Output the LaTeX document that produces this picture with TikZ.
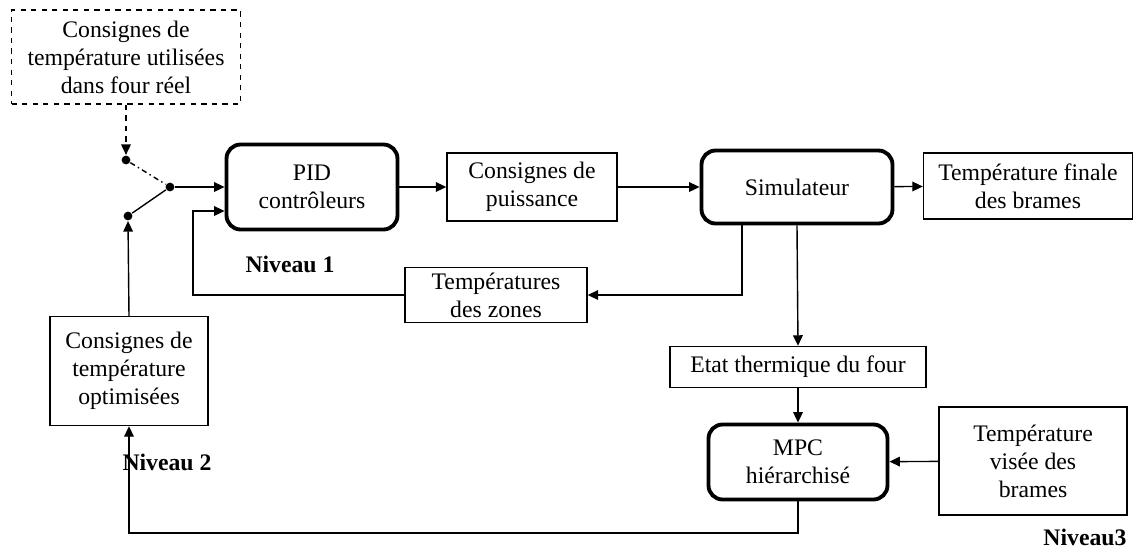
\documentclass[tikz,border=0pt]{standalone}
\usepackage{fontspec}
\setmainfont{Liberation Serif}
\usetikzlibrary{arrows.meta}
\tikzset{
  blk/.style={draw,line width=0.8pt,align=center,inner sep=2pt},
  ctrl/.style={draw,line width=2.2pt,rounded corners=8pt,align=center,inner sep=2pt},
  lvl/.style={font=\fontsize{13.5}{16}\selectfont\bfseries},
  dot/.style={circle,fill,inner sep=0pt,minimum size=5pt},
  >={Triangle[length=6pt,width=5.5pt]}
}
\begin{document}
\begin{tikzpicture}[x=0.02cm,y=-0.02cm,line width=0.8pt,font=\fontsize{13.5}{16}\selectfont]
\useasboundingbox(0,0)rectangle(1134,556);
%blocks
\node[blk,dashed,minimum width=4.58cm,minimum height=1.88cm](reel)at(126,57){Consignes de\\température utilisées\\dans four réel};
\node[ctrl,minimum width=3.42cm,minimum height=1.7cm](pid)at(312,187){PID\\contrôleurs};
\node[blk,minimum width=3.4cm,minimum height=1.36cm](puis)at(532,187){Consignes de\\puissance};
\node[ctrl,minimum width=3.82cm,minimum height=1.46cm](simu)at(797,187){Simulateur};
\node[blk,minimum width=4.18cm,minimum height=1.32cm](finale)at(1028,186){Température finale\\des brames};
\node[blk,minimum width=3.64cm,minimum height=1.1cm](zones)at(496,295){Températures\\des zones};
\node[blk,minimum width=5.12cm,minimum height=0.82cm](etat)at(798,367){Etat thermique du four};
\node[ctrl,minimum width=3.58cm,minimum height=1.5cm](mpc)at(798,462){MPC\\hiérarchisé};
\node[blk,minimum width=3.76cm,minimum height=2.16cm](visee)at(1033,461){Température\\visée des\\brames};
\node[blk,minimum width=3.16cm,minimum height=2.18cm](optim)at(129,371){Consignes de\\température\\optimisées};
%levels
\node[lvl](n1)at(290,264){Niveau 1};
\node[lvl](n2)at(167,462){Niveau 2};
\node[lvl](n3)at(1085,537){Niveau3};
%switch
\node[dot](s1)at(126,160){};
\node[dot](s2)at(170,187){};
\node[dot](s3)at(128,216){};
\draw[dashed,->](reel.south)--(s1.north);
\draw[dash dot](s1)--(s2);
\draw(s3)--(s2);
\draw[->](s2)--(s2-|pid.west);
\draw[->](optim.north)--(s3.south);
%forward path
\draw[->](pid)--(puis);
\draw[->](puis)--(simu);
\draw[->](simu)--(finale);
\draw[->](simu.south)--(etat.north);
\draw[->](etat)--(mpc);
\draw[->](visee)--(mpc);
%feedback
\coordinate(fb)at(193,211);
\coordinate(bot)at(0,533);
\draw[->](simu.south)++(-55,0)|-(zones.east);
\draw[->](zones.west)-|(fb)--(fb-|pid.west);
\draw[->](mpc.south)|-(optim.south|-bot)--(optim.south);
\end{tikzpicture}
\end{document}
